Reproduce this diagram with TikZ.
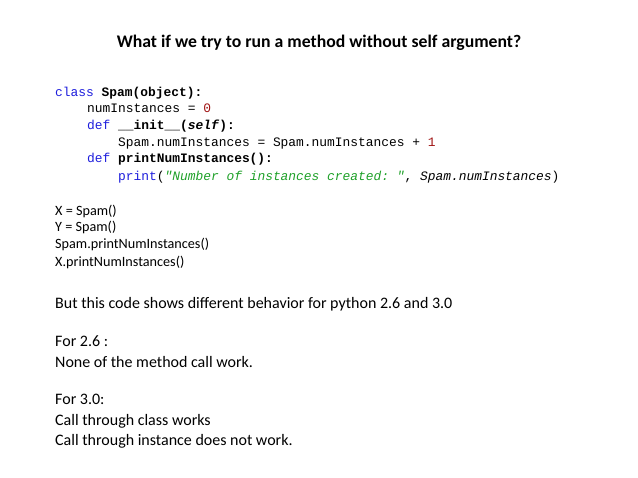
\documentclass[tikz,border=0pt]{standalone}
\usepackage{fontspec}
\setmainfont{Carlito}
\setmonofont{Liberation Mono}
\begin{document}
\begin{tikzpicture}[x=1pt,y=-1pt,
  txt/.style={anchor=base west,inner sep=0pt,font=\fontsize{14.2}{16}\selectfont},
  big/.style={anchor=base west,inner sep=0pt,font=\fontsize{16}{19}\selectfont},
  code/.style={anchor=base west,inner sep=0pt,font=\ttfamily\fontsize{12.9}{16}\selectfont}]
\definecolor{kw}{RGB}{30,30,220}
\definecolor{num}{RGB}{160,20,20}
\definecolor{str}{RGB}{30,160,40}
\useasboundingbox (0,0) rectangle (638,478);
\node[anchor=base,inner sep=0pt,font=\bfseries\fontsize{17.7}{20}\selectfont] (title) at (319,48) {What if we try to run a method without self argument?};
\node[code] (c1) at (55,97) {\textcolor{kw}{class} \textbf{Spam(object):}};
\node[code] (c2) at (87,113) {numInstances = \textcolor{num}{0}};
\node[code] (c3) at (87,130) {\textcolor{kw}{def} \textbf{\_\_init\_\_(\textit{self}):}};
\node[code] (c4) at (118,147) {Spam.numInstances = Spam.numInstances + \textcolor{num}{1}};
\node[code] (c5) at (87,163) {\textcolor{kw}{def} \textbf{printNumInstances():}};
\node[code] (c6) at (118,181) {\textcolor{kw}{print}(\textcolor{str}{\textit{"Number of instances created: "}}, \textit{Spam.numInstances})};
\node[txt] (x1) at (55,216) {X = Spam()};
\node[txt] (x2) at (55,232) {Y = Spam()};
\node[txt] (x3) at (55,249) {Spam.printNumInstances()};
\node[txt] (x4) at (55,267) {X.printNumInstances()};
\node[big] (b1) at (55,309) {But this code shows different behavior for python 2.6 and 3.0};
\node[big] (b2) at (55,347) {For 2.6 :};
\node[big] (b3) at (55,368) {None of the method call work.};
\node[big] (b4) at (55,405) {For 3.0:};
\node[big] (b5) at (55,426) {Call through class works};
\node[big] (b6) at (55,446) {Call through instance does not work.};
\end{tikzpicture}
\end{document}
